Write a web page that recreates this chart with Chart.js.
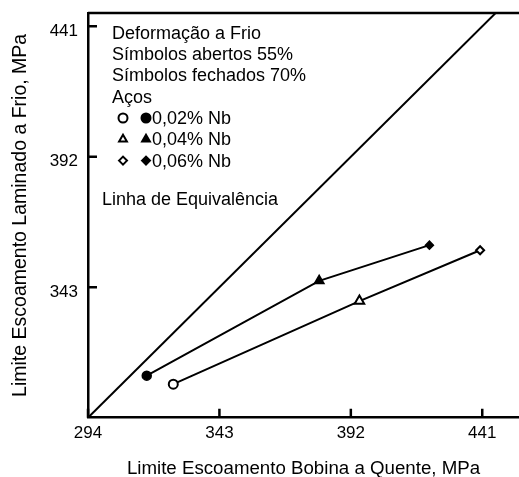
<!DOCTYPE html>
<html>
<head>
<meta charset="utf-8">
<script src="https://cdn.jsdelivr.net/npm/chart.js@4/dist/chart.umd.min.js"></script>
<style>
  html, body { margin: 0; padding: 0; background: #fff; }
  #wrap { width: 519px; height: 477px; }
</style>
</head>
<body>
<div id="wrap"><canvas id="grafico" width="519" height="477"></canvas></div>
<script>
// valores de escoamento (MPa): bobina a quente (x) x laminado a frio (y)
const acos = ['0,02% Nb', '0,04% Nb', '0,06% Nb'];
const simbolos = ['circle', 'triangle', 'rectRot'];
const xFechados = [315.9, 380.2, 421.3];   // deformação 70%
const yFechados = [309.8, 345.4, 358.8];
const xAbertos = [325.8, 395.2, 440.2];    // deformação 55%
const yAbertos = [306.6, 337.8, 356.9];
const xTicks = [294, 343, 392, 441];
const yTicks = [343, 392, 441];           // 294 fica só no eixo x
const linhaEquiv = [294, 470];

const fonte = "'Liberation Sans', Arial, sans-serif";
const textos = ['Deformação a Frio', 'Símbolos abertos 55%', 'Símbolos fechados 70%', 'Aços'];

function pontos(xs, ys) {
  return xs.map((x, i) => ({ x: x, y: ys[i] }));
}

function semPadding(s) {
  s.paddingLeft = 0;
  s.paddingRight = 0;
  s.paddingTop = 0;
  s.paddingBottom = 0;
}

// ticks para dentro, borda superior e anotações dentro do gráfico
const anotacoes = {
  id: 'anotacoes',
  afterDraw(chart) {
    const ctx = chart.ctx;
    const area = chart.chartArea;
    const sx = chart.scales.x;
    const sy = chart.scales.y;
    ctx.save();
    ctx.strokeStyle = '#000';
    ctx.lineWidth = 2.5;
    ctx.beginPath();
    ctx.moveTo(area.left, area.top);
    ctx.lineTo(area.right, area.top);
    xTicks.forEach(v => {
      const px = sx.getPixelForValue(v);
      ctx.moveTo(px, area.bottom);
      ctx.lineTo(px, area.bottom - 9);
    });
    yTicks.forEach(v => {
      const py = sy.getPixelForValue(v);
      ctx.moveTo(area.left, py);
      ctx.lineTo(area.left + 9, py);
    });
    ctx.stroke();

    ctx.fillStyle = '#000';
    ctx.font = '18px ' + fonte;
    ctx.textBaseline = 'middle';
    textos.forEach((t, i) => ctx.fillText(t, 112, 34 + i * 21.2));
    acos.forEach((t, i) => {
      const y = 118 + i * 21.3;
      ctx.fillText(t, 152, y + 1);
      ctx.lineWidth = 2;
      ctx.strokeStyle = '#000';
      ctx.fillStyle = '#fff';
      Chart.helpers.drawPoint(ctx, { pointStyle: simbolos[i], radius: i === 2 ? 4 : 4.5, borderWidth: 2, rotation: 0 }, 123, y);
      ctx.fillStyle = '#000';
      Chart.helpers.drawPoint(ctx, { pointStyle: simbolos[i], radius: i === 2 ? 4 : 4.5, borderWidth: 1, rotation: 0 }, 146, y);
    });
    ctx.fillText('Linha de Equivalência', 102, 200);
    ctx.restore();
  }
};

const ctx = document.getElementById('grafico').getContext('2d');
new Chart(ctx, {
  type: 'scatter',
  data: {
    datasets: [
      {
        label: 'Linha de Equivalência',
        data: pontos(linhaEquiv, linhaEquiv),
        showLine: true,
        borderColor: '#000',
        borderWidth: 2,
        pointRadius: 0,
      },
      {
        label: 'Símbolos fechados 70%',
        data: pontos(xFechados, yFechados),
        showLine: true,
        borderColor: '#000',
        borderWidth: 2,
        backgroundColor: '#000',
        pointStyle: simbolos,
        pointRadius: [4.5, 5.5, 4],
        pointBorderWidth: 1.5,
      },
      {
        label: 'Símbolos abertos 55%',
        data: pontos(xAbertos, yAbertos),
        showLine: true,
        borderColor: '#000',
        borderWidth: 2,
        backgroundColor: '#fff',
        pointBackgroundColor: '#fff',
        pointStyle: simbolos,
        pointRadius: [4.5, 5.5, 4],
        pointBorderWidth: 2,
      },
    ],
  },
  options: {
    responsive: false,
    animation: false,
    events: [],
    layout: { autoPadding: false, padding: { top: 13, right: 0, left: 0, bottom: 0 } },
    plugins: { legend: { display: false }, tooltip: { enabled: false } },
    scales: {
      x: {
        type: 'linear',
        min: 294,
        max: 454.7,
        afterBuildTicks: s => { s.ticks = xTicks.map(v => ({ value: v })); },
        afterFit: s => { s.height = 59.3; semPadding(s); },
        grid: { display: false, drawTicks: false },
        border: { display: true, color: '#000', width: 2.5 },
        ticks: { color: '#000', font: { family: fonte, size: 17 }, padding: 5, maxRotation: 0 },
        title: {
          display: true,
          text: 'Limite Escoamento Bobina a Quente, MPa',
          color: '#000',
          font: { family: fonte, size: 18.7 },
          padding: { top: 0, bottom: -3 },
        },
      },
      y: {
        type: 'linear',
        min: 294,
        max: 446,
        afterBuildTicks: s => { s.ticks = yTicks.map(v => ({ value: v })); },
        afterFit: s => { s.width = 88; semPadding(s); },
        grid: { display: false, drawTicks: false },
        border: { display: true, color: '#000', width: 2.5 },
        ticks: { color: '#000', font: { family: fonte, size: 17 }, padding: 10, labelOffset: 5 },
        title: {
          display: true,
          text: 'Limite Escoamento Laminado a Frio, MPa',
          color: '#000',
          font: { family: fonte, size: 19.5 },
          padding: { top: 9, bottom: 0 },
        },
      },
    },
  },
  plugins: [anotacoes],
});
</script>
</body>
</html>
